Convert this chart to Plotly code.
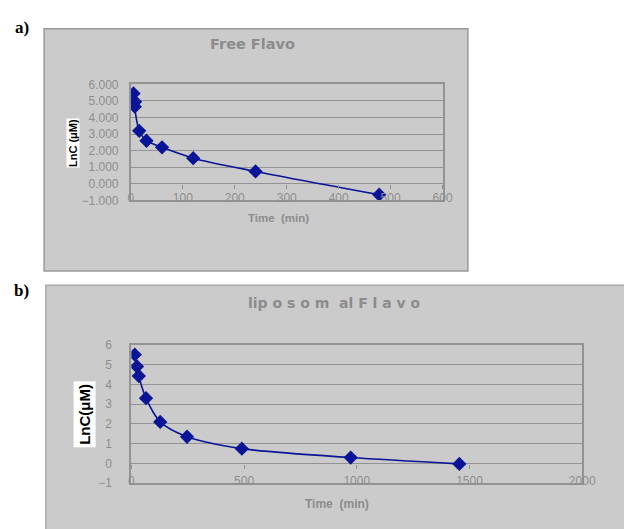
import plotly.graph_objects as go

# Data
free_time = [5, 8, 7.5, 16, 30, 60, 120, 240, 478]
free_lnc = [5.45, 4.95, 4.65, 3.20, 2.60, 2.20, 1.55, 0.75, -0.65]

lipo_time = [15, 25, 33, 65, 128, 247, 490, 973, 1455]
lipo_lnc = [5.50, 4.90, 4.42, 3.30, 2.10, 1.35, 0.75, 0.30, -0.02]

title_a = "Free Flavo"
title_b = "lip o s o m  al F l a v o"
xtitle = "Time  (min)"
ytitle_a = "LnC (μM)"
ytitle_b = "LnC(μM)"

W, H = 632, 529
OFF = 8  # page body margin offset

def px(x):
    return (x - OFF) / W

def py(y):
    return 1 - (y - OFF) / H

NAVY = "#0a1496"
GRID = "#939393"
TICK = "#8e8e8e"
BOX = "#cbcbcb"

fig = go.Figure()
fig.add_trace(go.Scatter(
    x=free_time, y=free_lnc, mode="lines+markers",
    line=dict(color=NAVY, width=1.6, shape="spline", smoothing=0.8),
    marker=dict(symbol="diamond", size=11, color=NAVY),
    xaxis="x", yaxis="y", showlegend=False))
fig.add_trace(go.Scatter(
    x=lipo_time, y=lipo_lnc, mode="lines+markers",
    line=dict(color=NAVY, width=1.6, shape="spline", smoothing=0.8),
    marker=dict(symbol="diamond", size=11, color=NAVY),
    xaxis="x2", yaxis="y2", showlegend=False))
# empty traces so the axis-crossing tick axes (at y = 0) are drawn
fig.add_trace(go.Scatter(x=[], y=[], xaxis="x3", yaxis="y", showlegend=False, hoverinfo="skip"))
fig.add_trace(go.Scatter(x=[], y=[], xaxis="x4", yaxis="y2", showlegend=False, hoverinfo="skip"))

tickfont = dict(family="Liberation Sans, Arial, sans-serif", size=12, color=TICK)

common_x = dict(showgrid=False, zeroline=False, showline=True, linecolor=GRID,
                linewidth=2, mirror=True, ticks="", tickfont=tickfont,
                ticklabelstandoff=-15)
common_y = dict(showgrid=True, gridcolor=GRID, gridwidth=1, zeroline=False,
                showline=True, linecolor=GRID, linewidth=2, mirror=True,
                ticks="", tickfont=tickfont, range=[-1, 6], dtick=1)
cross_x = dict(showgrid=False, zeroline=False, showline=False, ticks="outside",
               ticklen=4, tickwidth=1, tickcolor=GRID, showticklabels=False,
               anchor="free")

fig.update_layout(
    width=W, height=H, margin=dict(l=0, r=0, t=0, b=0),
    paper_bgcolor="white", plot_bgcolor=BOX,
    xaxis=dict(common_x, domain=[px(131.2), px(451.5)], range=[0, 600],
               dtick=100, anchor="y"),
    yaxis=dict(common_y, domain=[py(198.5), py(79.2)], tickformat=".3f",
               anchor="x", ticklabelstandoff=8),
    xaxis2=dict(common_x, domain=[px(131.7), px(595)], range=[0, 2000],
                dtick=500, anchor="y2"),
    yaxis2=dict(common_y, domain=[py(489), py(346.7)], tickformat="d",
                anchor="x2", ticklabelstandoff=15),
    xaxis3=dict(cross_x, overlaying="x", domain=[px(131.2), px(451.5)],
                range=[0, 600], dtick=100, position=py(181.2)),
    xaxis4=dict(cross_x, overlaying="x2", domain=[px(131.7), px(595)],
                range=[0, 2000], dtick=500, position=py(469.5)),
    shapes=[
        dict(type="rect", xref="paper", yref="paper", layer="below",
             x0=px(42), x1=px(477.5), y0=py(271), y1=py(22),
             fillcolor=BOX, line=dict(color="#9a9a9a", width=1.5)),
        dict(type="rect", xref="paper", yref="paper", layer="below",
             x0=px(43.8), x1=px(645), y0=py(540), y1=py(285.5),
             fillcolor=BOX, line=dict(color="#a8a8a8", width=1.5)),
    ],
)

ann = []
ann.append(dict(text="<b>" + title_a + "</b>", x=px(256.5), y=py(37.5),
                font=dict(family="DejaVu Sans, sans-serif", size=14.5, color="#8c8c8c")))
ann.append(dict(text="<b>" + title_b + "</b>", x=px(340), y=py(303.5),
                font=dict(family="DejaVu Sans, sans-serif", size=14, color="#8c8c8c")))
ann.append(dict(text="<b>" + xtitle + "</b>", x=px(282.5), y=py(216.5),
                font=dict(family="Liberation Sans, Arial, sans-serif", size=11.5, color="#8c8c8c")))
ann.append(dict(text="<b>" + xtitle + "</b>", x=px(343.5), y=py(510),
                font=dict(family="Liberation Sans, Arial, sans-serif", size=12, color="#8c8c8c")))
ann.append(dict(text="<b>" + ytitle_a + "</b>", x=px(71.7), y=py(139.5),
                textangle=-90, bgcolor="white", borderpad=0,
                font=dict(family="Liberation Sans Narrow, Liberation Sans, Arial, sans-serif", size=11, color="black")))
ann.append(dict(text="<b>" + ytitle_b + "</b>", x=px(84), y=py(417.7),
                textangle=-90, bgcolor="white", borderpad=2,
                font=dict(family="Liberation Sans Narrow, Liberation Sans, Arial, sans-serif", size=15, color="black")))
ann.append(dict(text="<b>a)</b>", x=px(19.5), y=py(20.5),
                font=dict(family="Liberation Serif, serif", size=17, color="black")))
ann.append(dict(text="<b>b)</b>", x=px(19.3), y=py(291),
                font=dict(family="Liberation Serif, serif", size=17, color="black")))
for a in ann:
    a.update(xref="paper", yref="paper", showarrow=False,
             xanchor="center", yanchor="middle")
fig.update_layout(annotations=ann)

fig.write_html("out.html")
